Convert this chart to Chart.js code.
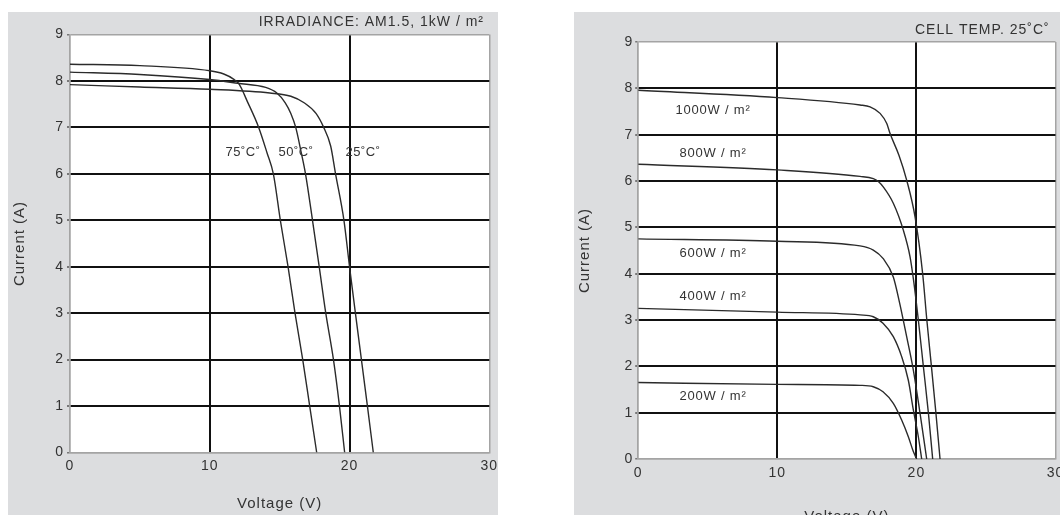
<!DOCTYPE html>
<html>
<head>
<meta charset="utf-8">
<script src="https://cdn.jsdelivr.net/npm/chart.js@4"></script>
<style>
  html, body { margin: 0; padding: 0; background: #fff; width: 1060px; height: 515px; overflow: hidden; }
  .panel { position: absolute; background: #dcdddf; }
  #tempPanel { left: 8px; top: 12px; width: 490px; height: 503px; }
  #irrPanel { left: 574px; top: 12px; width: 486px; height: 503px; }
  canvas { position: absolute; left: 0; top: 0; }
</style>
</head>
<body>
<div class="panel" id="tempPanel"><canvas id="tempChart" width="490" height="503"></canvas></div>
<div class="panel" id="irrPanel"><canvas id="irrChart" width="486" height="520"></canvas></div>

<script>
// I-V curves at 1 kW/m2 for three cell temperatures (voltage V, current A)
const v25C = [0, 5, 10, 14.3, 15.8, 16.75, 17.6, 18.15, 18.65, 19.0, 19.6, 20.0, 20.42, 20.85, 21.28, 21.7];
const i25C = [7.92, 7.87, 7.82, 7.74, 7.67, 7.53, 7.3, 7.0, 6.6, 6.0, 5.0, 4.0, 3.0, 2.0, 1.0, 0];
const v50C = [0, 5, 10, 12, 14, 14.8, 15.4, 15.8, 16.15, 16.55, 16.85, 17.35, 17.83, 18.3, 18.85, 19.28, 19.65];
const i50C = [8.19, 8.14, 8.03, 7.95, 7.86, 7.74, 7.53, 7.3, 7.0, 6.45, 6.0, 5.0, 4.0, 3.0, 2.0, 1.0, 0];
const v75C = [0, 5, 10, 11, 11.7, 12.1, 12.7, 13.5, 14.1, 14.55, 15.05, 15.6, 16.1, 16.65, 17.15, 17.65];
const i75C = [8.36, 8.33, 8.22, 8.15, 8.04, 7.93, 7.55, 7.0, 6.45, 6.0, 5.0, 4.0, 3.0, 2.0, 1.0, 0];
const tempNames = ['25˚C˚', '50˚C˚', '75˚C˚'];
const tempNameV = [20.96, 16.17, 12.38];
const tempNameI = [6.46, 6.46, 6.46];

// I-V curves at 25 ˚C for five irradiance levels
const v1000 = [0, 10, 15.95, 16.67, 17.39, 17.87, 18.1, 18.75, 19.3, 19.9, 20.45, 20.75, 21.08, 21.4, 21.7];
const i1000 = [7.96, 7.8, 7.64, 7.6, 7.46, 7.24, 7.03, 6.55, 6.02, 5.23, 4.0, 3.0, 2.0, 1.0, 0];
const v800 = [0, 10, 15.95, 16.9, 17.3, 17.6, 18.34, 19.06, 19.54, 19.8, 20.14, 20.5, 20.86, 21.17];
const i800 = [6.36, 6.24, 6.1, 6.05, 5.98, 5.88, 5.52, 4.94, 4.37, 3.85, 3.0, 2.0, 1.0, 0];
const v600 = [0, 10, 15.95, 16.9, 17.6, 18.34, 18.8, 19.3, 19.78, 20.26, 20.74];
const i600 = [4.75, 4.7, 4.6, 4.51, 4.33, 3.93, 3.36, 2.64, 1.92, 0.99, 0];
const v400 = [0, 10, 15.95, 16.9, 17.6, 18.34, 18.94, 19.42, 19.78, 20.14, 20.38];
const i400 = [3.25, 3.17, 3.11, 3.07, 2.93, 2.64, 2.21, 1.7, 1.06, 0.48, 0];
const v200 = [0, 10, 15.95, 16.9, 17.6, 18.34, 18.94, 19.42, 19.78, 20.02];
const i200 = [1.65, 1.61, 1.59, 1.56, 1.45, 1.2, 0.84, 0.48, 0.16, 0];
const irrNames = ['1000W / m²', '800W / m²', '600W / m²', '400W / m²', '200W / m²'];
const irrNameV = [5.38, 5.38, 5.38, 5.38, 5.38];
const irrNameI = [7.53, 6.6, 4.44, 3.5, 1.36];

// axis ranges and tick steps
const voltRange = [0, 30];
const voltStep = 10;
const currRange = [0, 9];
const currStep = 1;

const FONT = '"Liberation Sans", Arial, Helvetica, sans-serif';
const INK = '#333';
const FRAME = '#a4a4a4';

const toPoints = (vs, is) => vs.map((v, k) => ({ x: v, y: is[k] }));

function curve(vs, is) {
  return {
    data: toPoints(vs, is),
    borderColor: '#2b2b2b',
    borderWidth: 1.4,
    pointRadius: 0,
    fill: false,
    cubicInterpolationMode: 'monotone'
  };
}

// white plot box, curve captions and the small heading above the box
const panelText = {
  id: 'panelText',
  beforeDraw(chart) {
    const { ctx, chartArea: a } = chart;
    ctx.save();
    ctx.fillStyle = '#fff';
    ctx.fillRect(a.left, a.top, a.right - a.left, a.bottom - a.top);
    ctx.restore();
    ctx.letterSpacing = '1px';
  },
  afterDatasetsDraw(chart, args, opts) {
    const { ctx, scales: { x, y } } = chart;
    ctx.save();
    ctx.fillStyle = INK;
    ctx.textBaseline = 'middle';
    ctx.letterSpacing = opts.spacing;
    ctx.font = opts.labelFont;
    ctx.textAlign = 'center';
    opts.names.forEach((t, k) => {
      ctx.fillText(t, x.getPixelForValue(opts.nameV[k]), y.getPixelForValue(opts.nameI[k]));
    });
    ctx.letterSpacing = '1px';
    ctx.font = '14px ' + FONT;
    ctx.textAlign = opts.headAlign;
    ctx.fillText(opts.heading, opts.headX, opts.headY);
    ctx.restore();
  }
};

function edgeAware(max, edge, inner) {
  return c => (c.tick && (c.tick.value === 0 || c.tick.value === max)) ? edge : inner;
}

function makeChart(id, datasets, geo, text) {
  return new Chart(document.getElementById(id), {
    type: 'line',
    data: { datasets },
    plugins: [panelText],
    options: {
      responsive: false,
      animation: false,
      events: [],
      layout: {
        autoPadding: false,
        padding: { left: 0, top: geo.top, right: geo.right, bottom: 0 }
      },
      plugins: {
        legend: { display: false },
        tooltip: { enabled: false },
        panelText: text
      },
      scales: {
        x: {
          type: 'linear',
          min: voltRange[0], max: voltRange[1],
          afterFit: s => { s.height = geo.xHeight; s.paddingLeft = 0; s.paddingRight = 0; },
          border: { display: true, color: FRAME, width: 1.5 },
          grid: {
            drawTicks: false,
            color: edgeAware(voltRange[1], FRAME, '#111'),
            lineWidth: edgeAware(voltRange[1], 1.5, 2)
          },
          ticks: {
            stepSize: voltStep, padding: geo.xPad, color: INK,
            font: { family: FONT, size: 14 }
          },
          title: {
            display: true, text: 'Voltage (V)', color: INK,
            font: { family: FONT, size: 15 },
            padding: { top: 0, bottom: geo.xTitlePad }
          }
        },
        y: {
          type: 'linear',
          min: currRange[0], max: currRange[1],
          afterFit: s => { s.width = geo.yWidth; s.paddingTop = 0; s.paddingBottom = 0; },
          border: { display: true, color: FRAME, width: 1.5 },
          grid: {
            drawTicks: true, tickLength: 3, tickColor: '#777',
            color: edgeAware(currRange[1], FRAME, '#111'),
            lineWidth: edgeAware(currRange[1], 1.5, 2)
          },
          ticks: {
            stepSize: currStep, padding: geo.yPad, color: INK,
            font: { family: FONT, size: 14 }
          },
          title: {
            display: true, text: 'Current (A)', color: INK,
            font: { family: FONT, size: 15 },
            padding: { top: geo.yTitlePad, bottom: 0 }
          }
        }
      }
    }
  });
}

makeChart('tempChart',
  [curve(v25C, i25C), curve(v50C, i50C), curve(v75C, i75C)],
  { top: 22.5, right: 8.7, xHeight: 62.5, yWidth: 62, xPad: 5, yPad: 3, xTitlePad: 2.5, yTitlePad: 3 },
  {
    names: tempNames, nameV: tempNameV, nameI: tempNameI,
    labelFont: '13px ' + FONT, spacing: '0.5px',
    heading: 'IRRADIANCE: AM1.5, 1kW / m²', headAlign: 'right', headX: 476, headY: 10
  });

makeChart('irrChart',
  [curve(v1000, i1000), curve(v800, i800), curve(v600, i600), curve(v400, i400), curve(v200, i200)],
  { top: 30, right: 4.5, xHeight: 73, yWidth: 64.2, xPad: 6, yPad: 2, xTitlePad: 6, yTitlePad: 2 },
  {
    names: irrNames, nameV: irrNameV, nameI: irrNameI,
    labelFont: '13px ' + FONT, spacing: '0.8px',
    heading: 'CELL TEMP. 25˚C˚', headAlign: 'left', headX: 341, headY: 18
  });
</script>
</body>
</html>
